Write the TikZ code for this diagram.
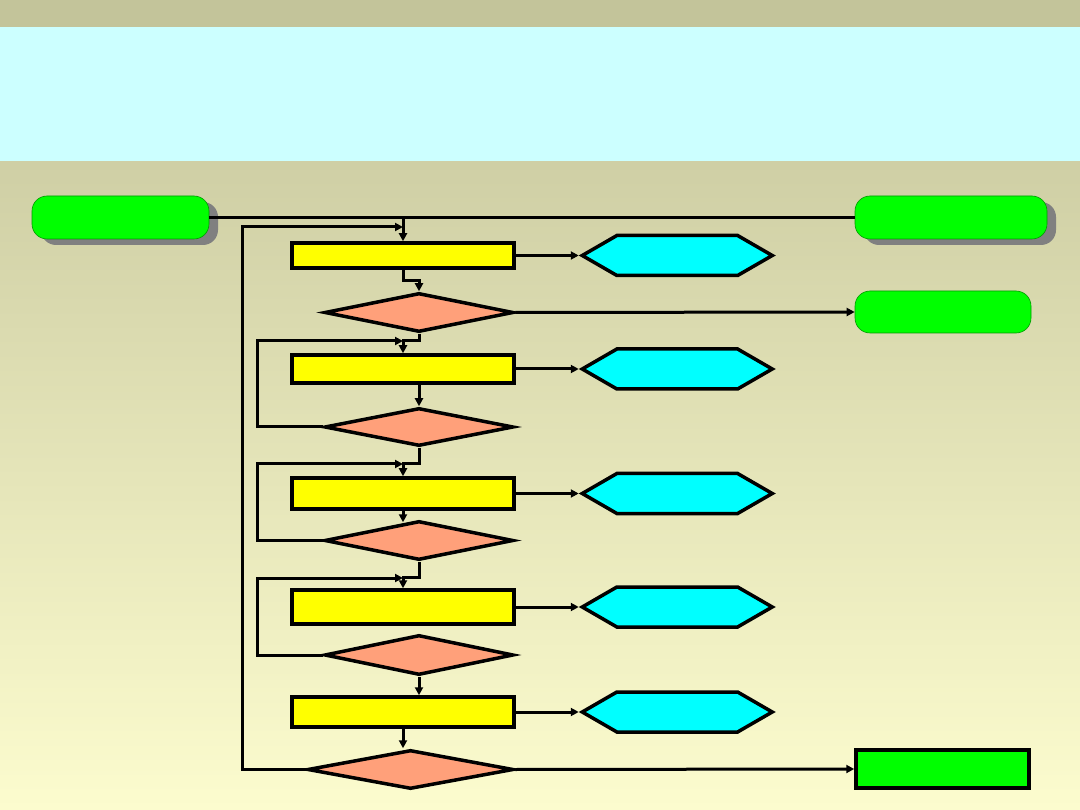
\documentclass[tikz,border=0pt]{standalone}
\usepackage{tikz}
\usetikzlibrary{arrows.meta, shapes.geometric, shapes.symbols, positioning, shadows}
\definecolor{bandtop}{RGB}{195,196,154}
\definecolor{bandcyan}{RGB}{204,255,255}
\definecolor{bgtop}{RGB}{207,207,165}
\definecolor{bgbot}{RGB}{252,252,206}
\definecolor{lime}{RGB}{0,255,0}
\definecolor{salmon}{RGB}{255,160,122}
\definecolor{aqua}{RGB}{0,255,255}
\definecolor{lemon}{RGB}{255,255,0}
\definecolor{shadowgray}{RGB}{128,128,128}

\begin{document}
\begin{tikzpicture}[
    x=1pt, y=-1pt,
    proc/.style={rectangle, draw=black, line width=3.5pt, fill=lemon,
                 minimum width=222pt, inner sep=0pt},
    test/.style={diamond, draw=black, line width=3.5pt, fill=salmon,
                 minimum width=189pt, minimum height=39pt, inner sep=0pt},
    outbox/.style={signal, signal to=east and west, signal pointer angle=60,
                   draw=black, line width=3.5pt, fill=aqua,
                   minimum width=190pt, minimum height=40pt, inner sep=0pt},
    term/.style={rectangle, rounded corners=15pt, draw=lime!60!black,
                 line width=0.6pt, fill=lime, minimum height=43pt},
    shterm/.style={term, drop shadow={shadow xshift=9pt, shadow yshift=-6pt,
                   fill=shadowgray, opacity=1}},
    arr/.style={-{Triangle[length=8pt,width=8pt]}, line width=3pt},
    link/.style={line width=3pt},
    node distance=63pt
  ]
    % Background bands
    \useasboundingbox (0,0) rectangle (1080,810);
    \fill[bandtop] (0,0) rectangle (1080,27);
    \fill[bandcyan] (0,27) rectangle (1080,162);
    \shade[top color=bgtop, bottom color=bgbot] (0,162) rectangle (1080,810);

    % Terminals
    \node[shterm, minimum width=177pt] (start) at (120.5,217.5) {};
    \node[shterm, minimum width=192pt] (endtop) at (951,217.5) {};
    \node[term, minimum width=176pt, minimum height=42pt] (endmid) at (943,312) {};
    \node[proc, fill=lime, minimum width=173pt, minimum height=38pt] (endbot) at (942.5,769) {};

    % Column of steps
    \node[proc, minimum height=25pt] (r1) at (403,255.5) {};
    \node[test] (d1) at (419,312.5) {};
    \node[proc, minimum height=28pt] (r2) at (403,369) {};
    \node[test, minimum height=38pt] (d2) at (419,427) {};
    \node[proc, minimum height=31pt] (r3) at (403,493.5) {};
    \node[test] (d3) at (419,540.5) {};
    \node[proc, minimum height=34pt] (r4) at (403,607) {};
    \node[test, minimum height=40pt] (d4) at (419,655) {};
    \node[proc, minimum height=30pt] (r5) at (403,712) {};
    \node[test, minimum width=206pt] (d5) at (410.5,769.5) {};

    % Outputs
    \node[outbox, right=of r1] (h1) {};
    \node[outbox, right=of r2] (h2) {};
    \node[outbox, right=of r3] (h3) {};
    \node[outbox, right=of r4] (h4) {};
    \node[outbox, right=of r5] (h5) {};

    % Entry and outer loop
    \draw[link] (start.east) -- (endtop.west);
    \draw[arr] (r1.north |- start.east) -- (r1.north);
    \coordinate (loopA) at (242,227);
    \draw[arr] (d5.west) -| (loopA) -- (r1.north |- loopA);

    % Step 1
    \draw[arr] (r1.east) -- (h1.west);
    \draw[arr] (r1.south) -- ++(0,11) -| (d1.north);
    \draw[arr] (d1.east) -- (endmid.west);

    % Step 2
    \coordinate (loopB) at (257,341);
    \draw[arr] (d1.south) -- ++(0,7) -| (r2.north);
    \draw[arr] (d2.west) -| (loopB) -- (r2.north |- loopB);
    \draw[arr] (r2.east) -- (h2.west);
    \draw[arr] (d2.north |- r2.south) -- (d2.north);

    % Step 3
    \coordinate (loopC) at (257,464);
    \draw[arr] (d2.south) -- ++(0,16) -| (r3.north);
    \draw[arr] (d3.west) -| (loopC) -- (r3.north |- loopC);
    \draw[arr] (r3.east) -- (h3.west);
    \draw[arr, shorten >=-3pt] (r3.south) -- (r3.south |- d3.north);

    % Step 4
    \coordinate (loopD) at (257,578);
    \draw[arr] (d3.south) -- ++(0,16) -| (r4.north);
    \draw[arr] (d4.west) -| (loopD) -- (r4.north |- loopD);
    \draw[arr] (r4.east) -- (h4.west);

    % Step 5
    \draw[arr] (d4.south) -- (d4.south |- r5.north);
    \draw[arr] (r5.east) -- (h5.west);
    \draw[arr] (r5.south) -- (r5.south |- d5.north);
    \draw[arr] (d5.east) -- (endbot.west);
\end{tikzpicture}
\end{document}
